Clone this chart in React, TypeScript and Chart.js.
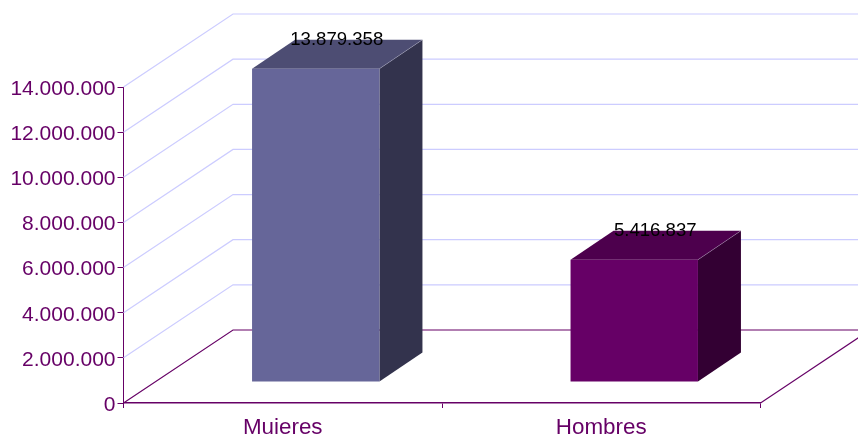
import React, { useEffect, useRef } from "react";
import { Chart, registerables } from "chart.js";

Chart.register(...registerables);

const categories = ["Mujeres", "Hombres"];
const values = [13879358, 5416837];
const valueLabels = ["13.879.358", "5.416.837"];
const tickValues = [0, 2000000, 4000000, 6000000, 8000000, 10000000, 12000000, 14000000];
const tickLabels = ["0", "2.000.000", "4.000.000", "6.000.000", "8.000.000", "10.000.000", "12.000.000", "14.000.000"];
const frontColors = ["#666699", "#660066"];
const sideColors = ["#33334D", "#330033"];
const topColors = ["#4D4D73", "#4D004D"];

const AXIS = "#660066";
const GRID = "#CCCCFF";
const FONT = '"Liberation Sans", Arial, sans-serif';
const WALL_DX = 109.5;
const WALL_DY = -73;
const BAR_DX = 33;
const BAR_DY = -21;
const SIDE_DX = 43;
const SIDE_DY = -29;

const poly = (ctx: CanvasRenderingContext2D, pts: number[][], fill: string) => {
  ctx.beginPath();
  pts.forEach(([x, y], i) => (i ? ctx.lineTo(x, y) : ctx.moveTo(x, y)));
  ctx.closePath();
  ctx.fillStyle = fill;
  ctx.fill();
};

const line = (ctx: CanvasRenderingContext2D, pts: number[][], color: string, w = 1) => {
  ctx.beginPath();
  pts.forEach(([x, y], i) => (i ? ctx.lineTo(x, y) : ctx.moveTo(x, y)));
  ctx.strokeStyle = color;
  ctx.lineWidth = w;
  ctx.stroke();
};

const box3d = {
  id: "box3d",
  beforeDatasetsDraw(chart: any) {
    const { ctx, scales, width } = chart;
    const y = scales.y;
    const x = scales.x;
    const left = x.left;
    ctx.save();
    tickValues.forEach((v) => {
      const py = y.getPixelForValue(v);
      if (v === 0) return;
      line(ctx, [[left, py], [left + WALL_DX, py + WALL_DY], [width, py + WALL_DY]], GRID, 1.2);
    });
    const y0 = y.getPixelForValue(0);
    line(ctx, [[left, y0], [left + WALL_DX, y0 + WALL_DY], [width, y0 + WALL_DY]], AXIS, 1.1);
    const r = x.right;
    line(ctx, [[r, y0], [r + WALL_DX, y0 + WALL_DY]], AXIS, 1.1);
    ctx.restore();
  },
  beforeDatasetDraw(chart: any, args: any) {
    const { ctx } = chart;
    ctx.save();
    ctx.translate(BAR_DX, BAR_DY);
    args.meta.data.forEach((el: any, i: number) => {
      const { x, y, base, width } = el.getProps(["x", "y", "base", "width"], true);
      const r = x + width / 2;
      const l = x - width / 2;
      poly(ctx, [[r, y], [r + SIDE_DX, y + SIDE_DY], [r + SIDE_DX, base + SIDE_DY], [r, base]], sideColors[i]);
      poly(ctx, [[l, y], [l + SIDE_DX, y + SIDE_DY], [r + SIDE_DX, y + SIDE_DY], [r, y]], topColors[i]);
      line(ctx, [[r, y], [r + SIDE_DX, y + SIDE_DY]], "rgba(200,200,220,0.45)", 0.7);
    });
  },
  afterDatasetDraw(chart: any, args: any) {
    const { ctx } = chart;
    ctx.restore();
    ctx.save();
    ctx.font = `18.6px ${FONT}`;
    ctx.fillStyle = "#000000";
    ctx.textAlign = "center";
    ctx.textBaseline = "middle";
    args.meta.data.forEach((el: any, i: number) => {
      const { x, y } = el.getProps(["x", "y"], true);
      ctx.fillText(valueLabels[i], x + BAR_DX + SIDE_DX / 2 - 0.5, y + BAR_DY + SIDE_DY + 0.5);
    });
    ctx.restore();
  },
};

export default function App() {
  const ref = useRef<HTMLCanvasElement>(null);
  useEffect(() => {
    const chart = new Chart(ref.current!, {
      type: "bar",
      data: {
        labels: categories,
        datasets: [
          {
            data: values,
            backgroundColor: frontColors,
            borderWidth: 0,
            barPercentage: 0.4,
            categoryPercentage: 1,
            clip: false as any,
          },
        ],
      },
      plugins: [box3d as any],
      options: {
        responsive: false,
        animation: false,
        layout: { padding: { top: 87, right: 97.5, bottom: 0, left: 0 } },
        plugins: { legend: { display: false }, tooltip: { enabled: false } },
        scales: {
          x: {
            border: { color: AXIS, width: 1.5 },
            grid: { drawOnChartArea: false, drawTicks: true, tickLength: 5, color: AXIS },
            ticks: {
              color: AXIS,
              padding: 6,
              maxRotation: 0,
              font: { family: FONT, size: 22.4 },
            },
            afterFit: (s: any) => {
              s.height = 31;
            },
          },
          y: {
            min: 0,
            max: 14000000,
            border: { color: AXIS, width: 1 },
            grid: { drawOnChartArea: false, drawTicks: true, tickLength: 6, color: AXIS },
            afterBuildTicks: (s: any) => {
              s.ticks = tickValues.map((value) => ({ value }));
            },
            ticks: {
              color: AXIS,
              padding: 2,
              labelOffset: 2,
              font: { family: FONT, size: 21 },
              callback: (v: any) => tickLabels[tickValues.indexOf(Number(v))],
            },
            afterFit: (s: any) => {
              s.width = 123.5;
            },
          },
        },
      },
    });
    return () => chart.destroy();
  }, []);
  return (
    <div style={{ position: "fixed", left: 0, top: 0, width: 858, height: 434, background: "#fff" }}>
      <canvas ref={ref} width={858} height={434} style={{ display: "block" }} />
    </div>
  );
}
